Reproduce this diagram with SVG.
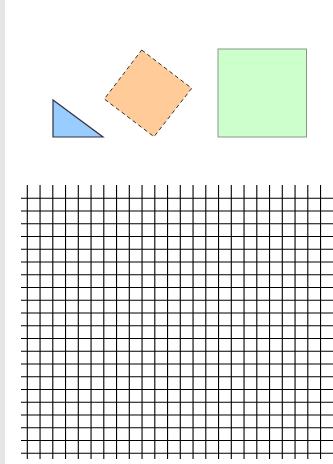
<svg xmlns="http://www.w3.org/2000/svg" width="333" height="464" viewBox="0 0 333 464">
<style>
.g line{stroke:#000;stroke-width:1.1}
</style>
<rect x="0" y="0" width="333" height="464" fill="#ffffff"/>
<rect x="0" y="0" width="5" height="464" fill="#e6e6e6"/>
<g id="triangle"><polygon points="53,100 53,137 103,137" fill="#99ccff" stroke="#334" stroke-width="1.2"/></g>
<g id="diamond"><polygon points="141.7,50 191.7,88.3 154,136.7 104.3,99" fill="#ffcc99" stroke="#333" stroke-width="1" stroke-dasharray="4,3"/></g>
<g id="square"><rect x="218" y="49" width="88.5" height="88" fill="#ccffcc" stroke="#889988" stroke-width="1"/></g>
<g id="grid" class="g">
<line x1="27.3" y1="185" x2="27.3" y2="459"/>
<line x1="40.05" y1="185" x2="40.05" y2="459"/>
<line x1="52.8" y1="185" x2="52.8" y2="459"/>
<line x1="65.55" y1="185" x2="65.55" y2="459"/>
<line x1="78.3" y1="185" x2="78.3" y2="459"/>
<line x1="91.05" y1="185" x2="91.05" y2="459"/>
<line x1="103.8" y1="185" x2="103.8" y2="459"/>
<line x1="116.55" y1="185" x2="116.55" y2="459"/>
<line x1="129.3" y1="185" x2="129.3" y2="459"/>
<line x1="142.05" y1="185" x2="142.05" y2="459"/>
<line x1="154.8" y1="185" x2="154.8" y2="459"/>
<line x1="167.55" y1="185" x2="167.55" y2="459"/>
<line x1="180.3" y1="185" x2="180.3" y2="459"/>
<line x1="193.05" y1="185" x2="193.05" y2="459"/>
<line x1="205.8" y1="185" x2="205.8" y2="459"/>
<line x1="218.55" y1="185" x2="218.55" y2="459"/>
<line x1="231.3" y1="185" x2="231.3" y2="459"/>
<line x1="244.05" y1="185" x2="244.05" y2="459"/>
<line x1="256.8" y1="185" x2="256.8" y2="459"/>
<line x1="269.55" y1="185" x2="269.55" y2="459"/>
<line x1="282.3" y1="185" x2="282.3" y2="459"/>
<line x1="295.05" y1="185" x2="295.05" y2="459"/>
<line x1="307.8" y1="185" x2="307.8" y2="459"/>
<line x1="320.55" y1="185" x2="320.55" y2="459"/>
<line x1="21" y1="198.3" x2="333" y2="198.3"/>
<line x1="21" y1="211.05" x2="333" y2="211.05"/>
<line x1="21" y1="223.8" x2="333" y2="223.8"/>
<line x1="21" y1="236.55" x2="333" y2="236.55"/>
<line x1="21" y1="249.3" x2="333" y2="249.3"/>
<line x1="21" y1="262.05" x2="333" y2="262.05"/>
<line x1="21" y1="274.8" x2="333" y2="274.8"/>
<line x1="21" y1="287.55" x2="333" y2="287.55"/>
<line x1="21" y1="300.3" x2="333" y2="300.3"/>
<line x1="21" y1="313.05" x2="333" y2="313.05"/>
<line x1="21" y1="325.8" x2="333" y2="325.8"/>
<line x1="21" y1="338.55" x2="333" y2="338.55"/>
<line x1="21" y1="351.3" x2="333" y2="351.3"/>
<line x1="21" y1="364.05" x2="333" y2="364.05"/>
<line x1="21" y1="376.8" x2="333" y2="376.8"/>
<line x1="21" y1="389.55" x2="333" y2="389.55"/>
<line x1="21" y1="402.3" x2="333" y2="402.3"/>
<line x1="21" y1="415.05" x2="333" y2="415.05"/>
<line x1="21" y1="427.8" x2="333" y2="427.8"/>
<line x1="21" y1="440.55" x2="333" y2="440.55"/>
<line x1="21" y1="453.3" x2="333" y2="453.3"/>
</g>
</svg>
